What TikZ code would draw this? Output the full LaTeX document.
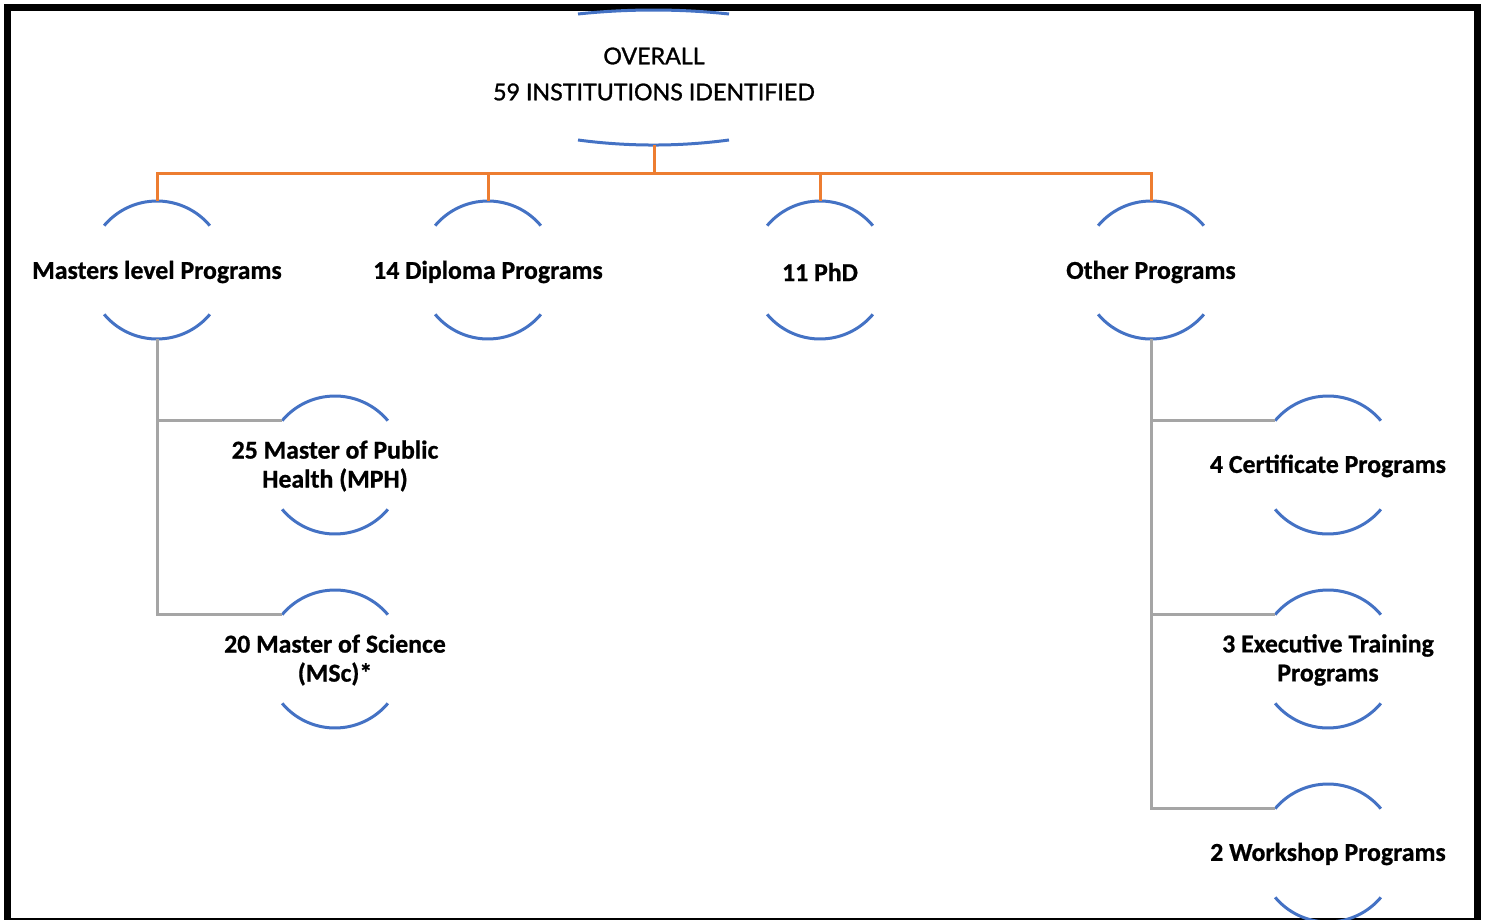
\documentclass[tikz,border=0pt]{standalone}
\usepackage{fontspec}
\setmainfont{Carlito}[BoldFont={Carlito Bold}, BoldFeatures={FakeBold=0.8}]
\newfontfamily\topfont{Lato}[FakeBold=1.2]
\usetikzlibrary{calc}
\definecolor{arcblue}{HTML}{4472C4}
\definecolor{orgline}{HTML}{ED7D31}
\definecolor{gryline}{HTML}{A5A5A5}
\tikzset{
  ring/.style={circle, inner sep=0pt, outer sep=0pt, minimum size=69pt},
  lbl/.style={font=\bfseries\fontsize{12.9}{14.5}\selectfont, align=center, inner sep=0pt},
  arcline/.style={draw=arcblue, line width=1.5pt},
  orgconn/.style={draw=orgline, line width=1.5pt},
  gryconn/.style={draw=gryline, line width=1.5pt},
}
\begin{document}
\begin{tikzpicture}[x=0.5pt,y=0.5pt]
\useasboundingbox (0,0) rectangle (1485,-920);
% frame
\draw[line width=3.5pt] (7.5,-7.5) rectangle (1477.5,-921);
% top node
\node[minimum width=75.5pt, minimum height=65pt, inner sep=0pt, outer sep=0pt] (top) at (654,-80) {};
\node[font=\topfont\fontsize{11.6}{18}\selectfont, align=center, inner sep=0pt] (toptxt) at (654,-74) {OVERALL\\59 INSTITUTIONS IDENTIFIED};
\draw[arcline] (578,-14) .. controls (628,-8.7) and (679,-8.7) .. (729,-14);
\draw[arcline] (578,-140) .. controls (628,-146.7) and (679,-146.7) .. (729,-140);
% rings
\node[ring] (mas) at (157,-270) {};
\node[ring] (dip) at (488,-270) {};
\node[ring] (phd) at (820,-270) {};
\node[ring] (oth) at (1151,-270) {};
\node[ring] (mph) at (335,-465) {};
\node[ring] (msc) at (335,-659) {};
\node[ring] (cert) at (1328,-465) {};
\node[ring] (exe) at (1328,-659) {};
\node[ring] (work) at (1328,-853) {};
\foreach \n in {mas,dip,phd,oth,mph,msc,cert,exe,work}{
  \draw[arcline] (\n.40) arc[start angle=40, end angle=140, radius=34.5pt];
  \draw[arcline] (\n.220) arc[start angle=220, end angle=320, radius=34.5pt];
}
% labels
\node[lbl] (masl) at (157,-272) {Masters level Programs};
\node[lbl] (dipl) at (488,-272) {14 Diploma Programs};
\node[lbl] (phdl) at (820,-272) {11 PhD};
\node[lbl] (othl) at (1151,-272) {Other Programs};
\node[lbl] (mphl) at (335,-466) {25 Master of Public\\Health (MPH)};
\node[lbl] (mscl) at (335,-660) {20 Master of Science\\(MSc)*};
\node[lbl] (certl) at (1328,-466) {4 Certificate Programs};
\node[lbl] (exel) at (1328,-660) {3 Executive Training\\Programs};
\node[lbl] (workl) at (1328,-854) {2 Workshop Programs};
% orange connectors
\coordinate (hub) at (654,-174);
\draw[orgconn] (top.south) -- (hub);
\foreach \n in {mas,dip,phd,oth}{
  \draw[orgconn] (hub) -| (\n.north);
}
% gray connectors
\draw[gryconn] (mas.south) |- (mph.140);
\draw[gryconn] (mas.south) |- (msc.140);
\draw[gryconn] (oth.south) |- (cert.140);
\draw[gryconn] (oth.south) |- (exe.140);
\draw[gryconn] (oth.south) |- (work.140);
\end{tikzpicture}
\end{document}
